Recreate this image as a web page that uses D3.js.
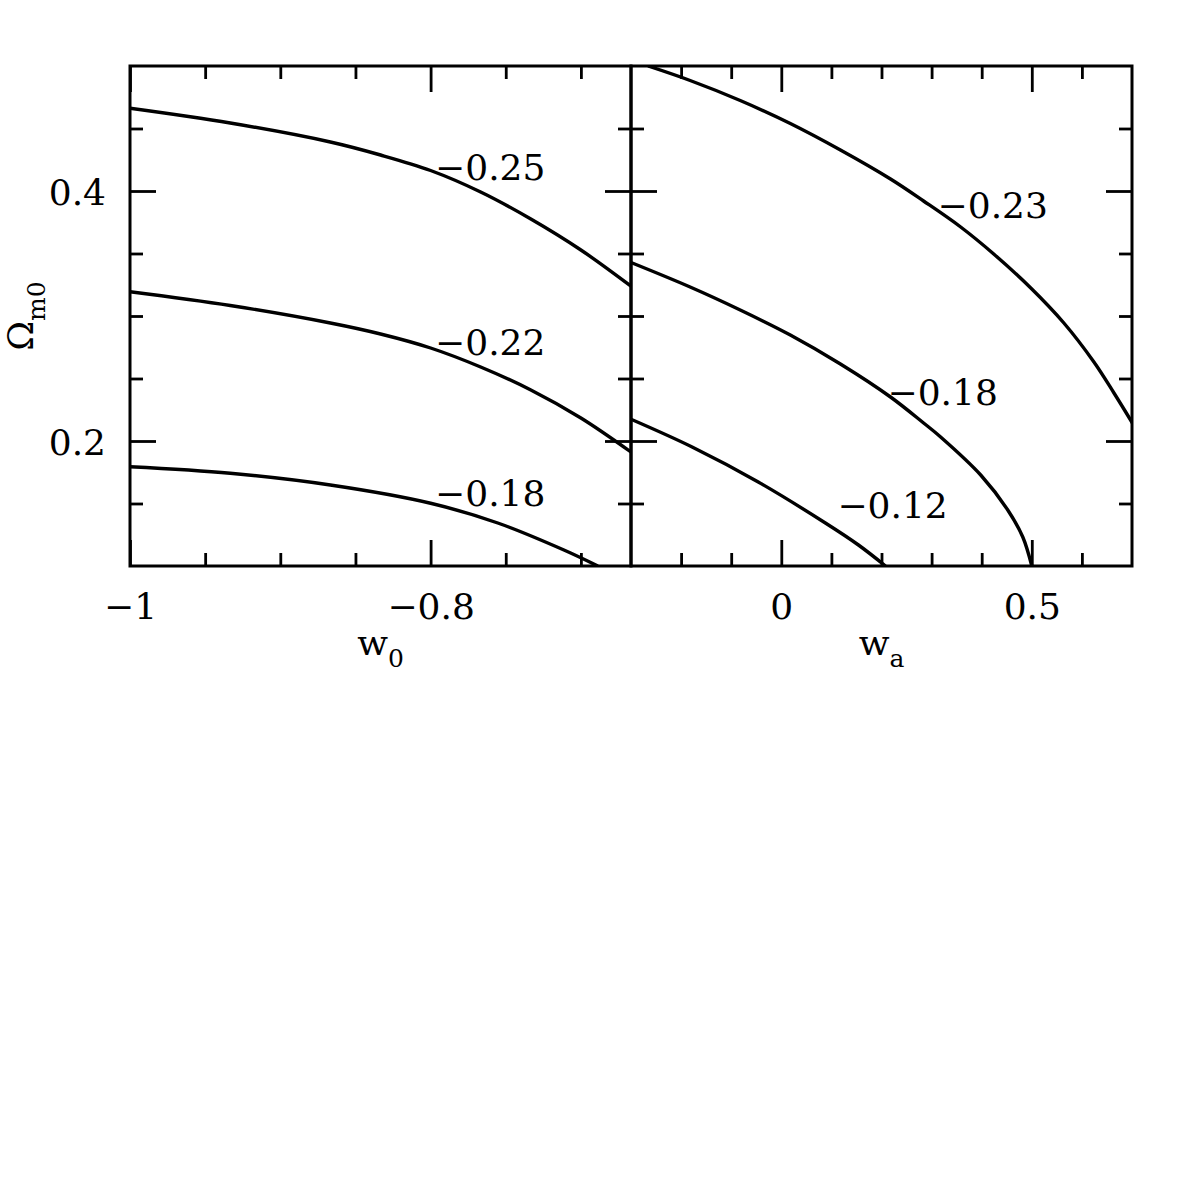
<!DOCTYPE html>
<html>
<head>
<meta charset="utf-8">
<script src="https://cdn.jsdelivr.net/npm/d3@7"></script>
<style>
  html, body { margin: 0; padding: 0; background: #fff; }
  svg { display: block; }
  text { font-family: "DejaVu Serif", serif; fill: #000; }
</style>
</head>
<body>
<div id="chart"></div>
<script>
// ----- Data -----
const w0Domain = [-1, -2 / 3];
const waDomain = [-0.3, 0.7];
const omDomain = [0.1, 0.5];

const w0MajorTicks = [-1, -0.8];
const w0MinorTicks = [-0.95, -0.9, -0.85, -0.75, -0.7];
const waMajorTicks = [0, 0.5];
const waMinorTicks = [-0.2, -0.1, 0.1, 0.2, 0.3, 0.4, 0.6];
const omMajorTicks = [0.2, 0.4];
const omMinorTicks = [0.15, 0.25, 0.3, 0.35, 0.45];

// left panel: Omega_m0 vs w0
const w0Curve25 = [[-1, 0.4662], [-0.9333, 0.4544], [-0.8667, 0.4392], [-0.8333, 0.4288], [-0.8, 0.4164],
                   [-0.7667, 0.3992], [-0.7333, 0.3776], [-0.7, 0.3528], [-0.666, 0.3232]];
const w0Curve22 = [[-1, 0.3194], [-0.9333, 0.3084], [-0.8667, 0.2944], [-0.8333, 0.2856], [-0.8, 0.2744],
                   [-0.7667, 0.2592], [-0.7333, 0.2408], [-0.7, 0.2184], [-0.666, 0.1906]];
const w0Curve18 = [[-1, 0.1794], [-0.9333, 0.1742], [-0.8667, 0.1648], [-0.8, 0.1502],
                   [-0.7553, 0.1344], [-0.7113, 0.1128], [-0.6887, 0.1]];

// right panel: Omega_m0 vs wa
const waCurve23 = [[-0.266, 0.5], [-0.182, 0.4884], [-0.082, 0.4724], [0.018, 0.454], [0.118, 0.4328],
                   [0.218, 0.4096], [0.284, 0.392], [0.358, 0.3712], [0.424, 0.3496], [0.498, 0.3224],
                   [0.564, 0.2944], [0.624, 0.2632], [0.664, 0.2384], [0.702, 0.2136]];
const waCurve18 = [[-0.3, 0.3428], [-0.182, 0.3232], [-0.082, 0.3048], [0.018, 0.2848], [0.118, 0.2616],
                   [0.218, 0.2352], [0.284, 0.2144], [0.318, 0.2032], [0.398, 0.1728], [0.452, 0.1448],
                   [0.482, 0.1232], [0.5, 0.1]];
const waCurve12 = [[-0.3, 0.2174], [-0.178, 0.1952], [-0.046, 0.1672], [0.088, 0.1344],
                   [0.154, 0.1168], [0.208, 0.1]];

// contour labels: [text, x, y(baseline)]
const w0Labels = [["\u22120.25", -0.797, 0.4088], ["\u22120.22", -0.797, 0.2688], ["\u22120.18", -0.797, 0.148]];
const waLabels = [["\u22120.23", 0.312, 0.3784], ["\u22120.18", 0.212, 0.2288], ["\u22120.12", 0.112, 0.1384]];

// ----- Layout -----
const WIDTH = 1196, HEIGHT = 1196;
const TOP = 66, BOTTOM = 566;
const LEFT_X = [130, 631], RIGHT_X = [631, 1132];
const MAJOR = 26, MINOR = 13;
const FONT = 36;

const svg = d3.select("#chart").append("svg")
  .attr("width", WIDTH).attr("height", HEIGHT);
svg.append("rect").attr("width", WIDTH).attr("height", HEIGHT).attr("fill", "#fff");

const y = d3.scaleLinear().domain(omDomain).range([BOTTOM, TOP]);
const fmt = d3.format("");

function styleAxis(g) {
  g.select(".domain").remove();
  g.selectAll(".tick line").attr("stroke", "#000").attr("stroke-width", 2.8);
  g.selectAll("text").attr("font-size", FONT).attr("font-family", "DejaVu Serif");
}

function drawPanel(id, xRange, xDomain, major, minor, curves, labels, yLabels) {
  const x = d3.scaleLinear().domain(xDomain).range(xRange);
  const g = svg.append("g").attr("class", id);

  g.append("clipPath").attr("id", "clip-" + id)
    .append("rect")
    .attr("x", xRange[0]).attr("y", TOP)
    .attr("width", xRange[1] - xRange[0]).attr("height", BOTTOM - TOP);

  // ticks (inward), major + minor on all four sides
  const sides = [
    [d3.axisBottom, x, major, minor, `translate(0,${BOTTOM})`, true],
    [d3.axisTop, x, major, minor, `translate(0,${TOP})`, false],
    [d3.axisLeft, y, omMajorTicks, omMinorTicks, `translate(${xRange[0]},0)`, yLabels],
    [d3.axisRight, y, omMajorTicks, omMinorTicks, `translate(${xRange[1]},0)`, false]
  ];
  sides.forEach(([axisFn, sc, maj, min, tr, withLabels]) => {
    const isX = axisFn === d3.axisBottom || axisFn === d3.axisTop;
    g.append("g").attr("transform", tr)
      .call(axisFn(sc).tickValues(min).tickSizeInner(-MINOR).tickSizeOuter(0).tickFormat(""))
      .call(styleAxis);
    const a = axisFn(sc).tickValues(maj).tickSizeInner(-MAJOR).tickSizeOuter(0)
      .tickPadding(isX ? 27 : 24)
      .tickFormat(withLabels ? fmt : "");
    const ag = g.append("g").attr("transform", tr).call(a).call(styleAxis);
    if (!isX) ag.selectAll("text").attr("dy", "0.38em");
  });

  // frame
  g.append("rect")
    .attr("x", xRange[0]).attr("y", TOP)
    .attr("width", xRange[1] - xRange[0]).attr("height", BOTTOM - TOP)
    .attr("fill", "none").attr("stroke", "#000").attr("stroke-width", 3);

  // curves
  const line = d3.line().x(d => x(d[0])).y(d => y(d[1])).curve(d3.curveCatmullRom.alpha(0.5));
  g.append("g").attr("clip-path", `url(#clip-${id})`)
    .selectAll("path").data(curves).join("path")
    .attr("d", line)
    .attr("fill", "none").attr("stroke", "#000").attr("stroke-width", 3.4)
    .attr("stroke-linejoin", "round");

  // contour labels
  g.selectAll("text.clabel").data(labels).join("text")
    .attr("class", "clabel")
    .attr("x", d => x(d[1])).attr("y", d => y(d[2]))
    .attr("font-size", FONT)
    .text(d => d[0]);

  return x;
}

drawPanel("left", LEFT_X, w0Domain, w0MajorTicks, w0MinorTicks,
  [w0Curve25, w0Curve22, w0Curve18], w0Labels, true);
drawPanel("right", RIGHT_X, waDomain, waMajorTicks, waMinorTicks,
  [waCurve23, waCurve18, waCurve12], waLabels, false);

// axis titles
function subLabel(xPos, yPos, main, sub, rotate) {
  const t = svg.append("text")
    .attr("text-anchor", "middle")
    .attr("font-size", FONT)
    .attr("transform", `translate(${xPos},${yPos})` + (rotate ? " rotate(-90)" : ""));
  t.append("tspan").text(main);
  t.append("tspan").attr("dy", 12).attr("font-size", 25).text(sub);
}
subLabel((LEFT_X[0] + LEFT_X[1]) / 2, 655, "w", "0", false);
subLabel((RIGHT_X[0] + RIGHT_X[1]) / 2, 655, "w", "a", false);
subLabel(33, (TOP + BOTTOM) / 2, "\u03A9", "m0", true);
</script>
</body>
</html>
